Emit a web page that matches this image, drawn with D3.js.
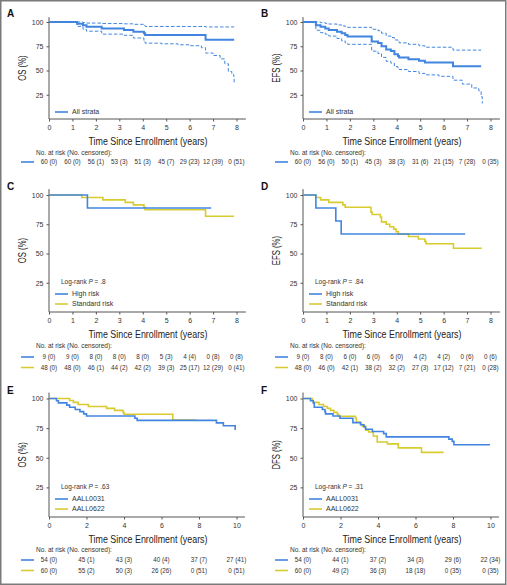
<!DOCTYPE html>
<html><head><meta charset="utf-8">
<script src="https://cdn.jsdelivr.net/npm/d3@7"></script>
<style>body{margin:0;background:#fff} svg{display:block}</style>
</head><body>
<svg id="c" width="507" height="585"></svg>
<script>
// ---------- data ----------
const ticks8 = [0,1,2,3,4,5,6,7,8];
const ticks10 = [0,2,4,6,8,10];
const yTicks = [25,50,75,100];

const aOS = [[0,100],[1.2,98.3],[1.45,96.7],[1.6,95],[2.25,93.3],[3.2,91.7],[3.6,90],[4.05,88.3],[4.1,86.7],[6.68,81.8],[7.9,81.8]];
const aOSupper = [[0,100],[1.4,100],[1.45,99.4],[1.6,98.9],[2.25,98.4],[3.2,98.1],[3.6,97.6],[4.05,96.5],[4.1,95.4],[6.68,94.9],[7.9,94.9]];
const aOSlower = [[0,100],[1.2,95.5],[1.45,92.5],[1.6,90.5],[2.25,87.5],[3.2,86.3],[3.6,83.5],[4.05,80],[4.1,78.2],[4.8,77.5],[5.5,76.5],[6.0,75.5],[6.5,73.5],[6.68,68],[7.0,65.5],[7.3,62],[7.5,57],[7.65,49],[7.8,46],[7.88,44],[7.9,37]];
const aRisk = ["60 (0)","60 (0)","56 (1)","53 (3)","51 (3)","45 (7)","29 (23)","12 (39)","0 (51)"];

const bEFS = [[0,100],[0.55,96.7],[0.75,95],[0.95,93.3],[1.1,91.7],[1.45,90],[1.65,88.3],[1.8,86.7],[1.9,85],[2.93,80],[3.2,78.3],[3.35,75],[3.55,71.7],[3.75,70],[3.9,66.7],[4.05,65],[4.1,63.3],[4.5,61.7],[4.95,60],[5.2,58.3],[6.4,54.5],[7.6,54.5]];
const bEFSupper = [[0,100],[0.55,100],[0.75,99.3],[0.95,98.6],[1.1,97.9],[1.45,97],[1.65,96],[1.8,95],[1.9,94.5],[2.93,92.5],[3.2,91],[3.35,88.5],[3.55,85.5],[3.75,84],[3.9,81.5],[4.05,80],[4.1,78.5],[4.5,77],[4.95,75.5],[5.2,74],[6.4,71],[7.6,71]];
const bEFSlower = [[0,100],[0.55,91.5],[0.75,89],[0.95,87.5],[1.1,85.5],[1.45,83],[1.65,80.5],[1.8,78.5],[1.9,77],[2.93,70],[3.2,67.5],[3.35,63.5],[3.55,59.5],[3.75,57.5],[3.9,54],[4.05,52.5],[4.1,51],[4.5,49],[4.95,47],[5.2,45.5],[5.8,44],[6.4,40],[6.8,36],[7.2,32],[7.5,29],[7.6,23],[7.65,16]];
const bRisk = ["60 (0)","56 (0)","50 (1)","45 (3)","38 (3)","31 (6)","21 (15)","7 (28)","0 (35)"];

const cHigh = [[0,100],[1.64,88.9],[6.92,88.9]];
const cStd = [[0,100],[1.4,97.9],[2.3,95.8],[3.25,93.7],[3.6,91.6],[4.05,89.5],[4.1,87.4],[6.68,81.8],[7.9,81.8]];
const cRiskHigh = ["9 (0)","9 (0)","8 (0)","8 (0)","8 (0)","5 (3)","4 (4)","0 (8)","0 (8)"];
const cRiskStd = ["48 (0)","48 (0)","46 (1)","44 (2)","42 (2)","39 (3)","25 (17)","12 (29)","0 (41)"];

const dHigh = [[0,100],[0.55,88.9],[1.4,77.8],[1.63,66.7],[6.92,66.7]];
const dStd = [[0,100],[0.55,97.9],[0.75,95.8],[1.1,93.7],[1.7,91.6],[1.8,89.5],[2.9,85.4],[2.95,83.3],[3.3,81.2],[3.35,77],[3.55,75],[3.7,72.9],[3.87,70.8],[3.97,68.7],[4.07,66.6],[4.5,64.5],[4.92,62.4],[5.2,60.3],[5.25,58.3],[6.42,54.5],[7.63,54.5]];
const dRiskHigh = ["9 (0)","8 (0)","6 (0)","6 (0)","6 (0)","4 (2)","4 (2)","0 (6)","0 (6)"];
const dRiskStd = ["48 (0)","46 (0)","42 (1)","38 (2)","32 (2)","27 (3)","17 (12)","7 (21)","0 (28)"];

const e0031 = [[0,100],[0.4,98.1],[0.5,96.3],[0.95,94.4],[1.1,92.6],[1.4,90.7],[1.65,88.9],[1.85,87],[2.0,85.2],[4.58,83.3],[4.7,81.5],[8.93,79.4],[9.3,77],[9.93,74],[9.97,74]];
const e0622 = [[0,100],[1.1,98.3],[1.3,96.7],[1.55,95],[2.1,93.3],[3.07,91.7],[3.5,90],[3.95,88.3],[4.0,86.7],[6.6,81.8],[7.87,81.8]];
const eRisk0031 = ["54 (0)","45 (1)","43 (3)","40 (4)","37 (7)","27 (41)"];
const eRisk0622 = ["60 (0)","55 (2)","50 (3)","26 (26)","0 (51)","0 (51)"];

const f0031 = [[0,100],[0.4,98.1],[0.55,96.3],[0.6,92.6],[1.03,90.7],[1.17,88.9],[1.2,87],[1.6,85.2],[1.97,83.3],[2.66,79.6],[3.07,77.8],[3.25,75.9],[3.34,74],[3.7,72.2],[4.3,70.4],[4.44,67.6],[7.78,65.7],[7.96,63.8],[8.05,61],[9.97,61]];
const f0622 = [[0,100],[0.5,98.3],[0.55,96.7],[0.85,95],[1.1,93.3],[1.3,91.7],[1.47,90],[1.65,88.3],[1.83,86.7],[1.9,85],[2.8,83.3],[2.85,80],[3.07,78.3],[3.16,76.7],[3.34,73.3],[3.5,71.7],[3.75,68.3],[3.96,63.3],[4.5,61.7],[5.08,58.3],[6.32,54.5],[7.5,54.5]];
const fRisk0031 = ["54 (0)","44 (1)","37 (2)","34 (3)","29 (6)","22 (34)"];
const fRisk0622 = ["60 (0)","49 (2)","36 (3)","18 (18)","0 (35)","0 (35)"];

// ---------- drawing ----------
const BLUE = "#4285e0", YELLOW = "#d8cb30", INK = "#333";
const FONT = "'Liberation Sans',Arial,sans-serif";
const svg = d3.select("#c").style("font-family", FONT);

svg.append("rect").attr("x",0.75).attr("y",0.75).attr("width",505).attr("height",583.5)
  .attr("fill","none").attr("stroke","#7a7a7a").attr("stroke-width",1.5);

const panels = [
  {L:"A", x0:0,   y100:22,  y0:119, xmax:8.4,  ticks:ticks8,  ylab:"OS (%)", rk:[36,45],
   series:[{d:aOSupper,c:BLUE,w:1,dash:"3.5,2"},{d:aOSlower,c:BLUE,w:1,dash:"3.5,2"},{d:aOS,c:BLUE,w:2}],
   legend:[{t:"All strata",c:BLUE}], logrank:null, risk:[{r:aRisk,c:BLUE}]},
  {L:"B", x0:254, y100:22,  y0:119, xmax:8.4,  ticks:ticks8,  ylab:"EFS (%)", rk:[36,45],
   series:[{d:bEFSupper,c:BLUE,w:1,dash:"3.5,2"},{d:bEFSlower,c:BLUE,w:1,dash:"3.5,2"},{d:bEFS,c:BLUE,w:2}],
   legend:[{t:"All strata",c:BLUE}], logrank:null, risk:[{r:bRisk,c:BLUE}]},
  {L:"C", x0:0,   y100:195, y0:312, xmax:8.4,  ticks:ticks8,  ylab:"OS (%)", rk:[36,47],
   series:[{d:cStd,c:YELLOW,w:1.6},{d:cHigh,c:BLUE,w:1.6}],
   legend:[{t:"High risk",c:BLUE},{t:"Standard risk",c:YELLOW}], logrank:".8",
   risk:[{r:cRiskHigh,c:BLUE},{r:cRiskStd,c:YELLOW}]},
  {L:"D", x0:254, y100:195, y0:312, xmax:8.4,  ticks:ticks8,  ylab:"EFS (%)", rk:[36,47],
   series:[{d:dStd,c:YELLOW,w:1.6},{d:dHigh,c:BLUE,w:1.6}],
   legend:[{t:"High risk",c:BLUE},{t:"Standard risk",c:YELLOW}], logrank:".84",
   risk:[{r:dRiskHigh,c:BLUE},{r:dRiskStd,c:YELLOW}]},
  {L:"E", x0:0,   y100:398.5, y0:517, xmax:10.45, ticks:ticks10, ylab:"OS (%)", rk:[35,45],
   series:[{d:e0622,c:YELLOW,w:1.6},{d:e0031,c:BLUE,w:1.6}],
   legend:[{t:"AALL0031",c:BLUE},{t:"AALL0622",c:YELLOW}], logrank:".63",
   risk:[{r:eRisk0031,c:BLUE},{r:eRisk0622,c:YELLOW}]},
  {L:"F", x0:254, y100:398.5, y0:517, xmax:10.45, ticks:ticks10, ylab:"DFS (%)", rk:[35,45],
   series:[{d:f0622,c:YELLOW,w:1.6},{d:f0031,c:BLUE,w:1.6}],
   legend:[{t:"AALL0031",c:BLUE},{t:"AALL0622",c:YELLOW}], logrank:".31",
   risk:[{r:fRisk0031,c:BLUE},{r:fRisk0622,c:YELLOW}]}
];

panels.forEach(p => {
  const g = svg.append("g");
  const left = p.x0 + 49;
  const tmax = p.ticks[p.ticks.length-1];
  const pxPerUnit = 187.5 / tmax;
  const x = d3.scaleLinear().domain([0, p.xmax]).range([left, left + p.xmax * pxPerUnit]);
  const y = d3.scaleLinear().domain([0, 100]).range([p.y0, p.y100]);
  const yTop = y(105);

  // panel letter
  g.append("text").attr("x", p.x0 + 7).attr("y", p.y100 - 5).text(p.L)
    .attr("font-weight","bold").attr("font-size", 10).attr("fill","#111");

  // axes
  const xAxis = d3.axisBottom(x).tickValues(p.ticks).tickSize(2.5).tickSizeOuter(0).tickPadding(3);
  const gx = g.append("g").attr("transform", `translate(0,${p.y0})`).call(xAxis);
  gx.select(".domain").attr("d", `M${left},0H${x(p.xmax)}`);
  const yAxis = d3.axisLeft(y).tickValues(yTicks).tickSize(2.5).tickSizeOuter(0).tickPadding(3);
  const gy = g.append("g").attr("transform", `translate(${left},0)`).call(yAxis);
  gy.select(".domain").attr("d", `M0,${yTop}V${p.y0}`);
  [gx, gy].forEach(a => {
    a.selectAll("path,line").attr("stroke", "#555").attr("stroke-width", 1);
    a.selectAll("text").attr("font-size", 7).attr("fill", INK).attr("font-family", FONT);
  });
  gx.selectAll("text").attr("dy", "0.75em");

  // axis titles (condensed face imitated by fitting length)
  g.append("text").attr("x", left + 99).attr("y", p.y0 + 25.5).attr("text-anchor","middle")
    .attr("font-size", 11).attr("fill", "#222")
    .attr("textLength", 119).attr("lengthAdjust", "spacingAndGlyphs")
    .text("Time Since Enrollment (years)");
  const ym = (yTop + p.y0) / 2;
  g.append("text").attr("transform", `translate(${p.x0 + 26},${ym}) rotate(-90)`)
    .attr("text-anchor","middle").attr("font-size", 10.5).attr("fill", "#222")
    .attr("textLength", p.ylab.length * 4.2).attr("lengthAdjust", "spacingAndGlyphs")
    .text(p.ylab);

  // curves
  const line = d3.line().x(d => x(d[0])).y(d => y(d[1])).curve(d3.curveStepAfter);
  p.series.forEach(s => {
    g.append("path").datum(s.d).attr("d", line).attr("fill","none")
      .attr("stroke", s.c).attr("stroke-width", s.w)
      .attr("stroke-dasharray", s.dash || null);
  });

  // legend
  const nL = p.legend.length;
  if (p.logrank) {
    const t = g.append("text").attr("x", p.x0 + 61).attr("y", p.y0 - 28)
      .attr("font-size", 6.5).attr("fill", INK);
    t.append("tspan").text("Log-rank ");
    t.append("tspan").attr("font-style","italic").text("P");
    t.append("tspan").text(" = " + p.logrank);
  }
  p.legend.forEach((l, i) => {
    const ly = p.y0 - (nL === 1 ? 7 : (i === 0 ? 18 : 8));
    g.append("line").attr("x1", p.x0 + 55).attr("x2", p.x0 + 68).attr("y1", ly).attr("y2", ly)
      .attr("stroke", l.c).attr("stroke-width", 1.6);
    g.append("text").attr("x", p.x0 + 72).attr("y", ly).attr("dy","0.35em")
      .attr("font-size", 7).attr("fill", INK).text(l.t);
  });

  // risk table
  g.append("text").attr("x", p.x0 + 36).attr("y", p.y0 + p.rk[0]).attr("font-size", 6.5)
    .attr("fill", INK).text("No. at risk (No. censored):");
  p.risk.forEach((r, i) => {
    const ry = p.y0 + p.rk[1] + i * 10.5;
    g.append("line").attr("x1", p.x0 + 21).attr("x2", p.x0 + 34).attr("y1", ry - 2).attr("y2", ry - 2)
      .attr("stroke", r.c).attr("stroke-width", 1.6);
    g.selectAll(null).data(r.r).enter().append("text")
      .attr("x", (d, j) => x(p.ticks[j])).attr("y", ry).attr("text-anchor","middle")
      .attr("font-size", 6.3).attr("fill", INK).text(d => d);
  });
});
</script>
</body></html>
